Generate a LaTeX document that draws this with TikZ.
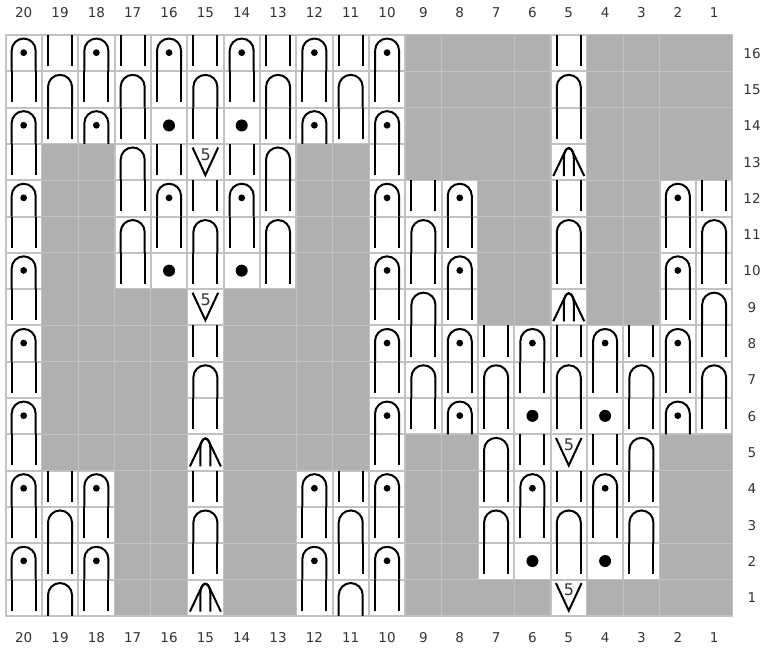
\documentclass[tikz,border=0pt]{standalone}
\usepackage{fontspec}
\setmainfont{DejaVu Sans}
\definecolor{chartgray}{HTML}{B0B0B0}
\definecolor{gridgray}{HTML}{C2C2C2}
\definecolor{labelgray}{HTML}{333333}
\tikzset{
  x=1pt,y=-1pt,
  ink/.style={draw=black,line width=2pt,line cap=butt,line join=miter},
  num/.style={text=labelgray,font=\fontsize{13.5}{15}\selectfont,inner sep=0pt,anchor=base},
  five/.style={text=labelgray,font=\fontsize{16}{17}\selectfont,inner sep=0pt},
  symG/.pic={\path[fill=chartgray] (-17.8,-17.8) rectangle (17.8,17.8);},
  symK/.pic={\draw[ink] (-12,-18.15) -- (-12,13) (12,-18.15) -- (12,13);},
  symP/.pic={\draw[ink] (-12,18.15) -- (-12,-2.6) arc[start angle=180,end angle=360,radius=12] -- (12,18.15);},
  symD/.pic={\draw[ink] (-12,18.15) -- (-12,-2.6) arc[start angle=180,end angle=360,radius=12] -- (12,18.15);
             \fill (0,-0.5) circle[radius=3.4];},
  symO/.pic={\fill (0,-0.3) circle[radius=6];},
  symV/.pic={\draw[ink] (-12.8,-14.5) -- (0,13) -- (12.8,-14.5);
             \node[five] (n) at (0.3,-7.5) {5};},
  symA/.pic={\draw[ink] (-15.5,14) -- (-5,-8) .. controls (-3,-12.5) and (-1.5,-14) .. (0,-14)
             .. controls (1.5,-14) and (3,-12.5) .. (5,-8) -- (15.5,14);
             \draw[ink] (-5,14) -- (-5,-4) .. controls (-5,-10) and (-2.5,-14) .. (0,-14)
             .. controls (2.5,-14) and (5,-10) .. (5,-4) -- (5,14);},
}
\begin{document}
\begin{tikzpicture}
\fill[white] (0,0) rectangle (762,650);
\useasboundingbox (0,0) rectangle (762,650);
\def\colw{36.34}\def\rowh{36.3}\def\gx{5.5}\def\gy{35}
% grid
\draw[gridgray,line width=2pt] (\gx,\gy) rectangle (\gx+20*\colw,\gy+16*\rowh);
\foreach \i in {1,...,19} \draw[gridgray,line width=2pt] (\gx+\i*\colw,\gy) -- (\gx+\i*\colw,\gy+16*\rowh);
\foreach \i in {1,...,15} \draw[gridgray,line width=2pt] (\gx,\gy+\i*\rowh) -- (\gx+20*\colw,\gy+\i*\rowh);
% symbols: one list per row, columns 20 down to 1
\foreach \r/\cells in {
 16/{D,K,D,K,D,K,D,K,D,K,D,G,G,G,G,K,G,G,G,G},
 15/{K,P,K,P,K,P,K,P,K,P,K,G,G,G,G,P,G,G,G,G},
 14/{D,K,D,K,O,K,O,K,D,K,D,G,G,G,G,K,G,G,G,G},
 13/{K,G,G,P,K,V,K,P,G,G,K,G,G,G,G,A,G,G,G,G},
 12/{D,G,G,K,D,K,D,K,G,G,D,K,D,G,G,K,G,G,D,K},
 11/{K,G,G,P,K,P,K,P,G,G,K,P,K,G,G,P,G,G,K,P},
 10/{D,G,G,K,O,K,O,K,G,G,D,K,D,G,G,K,G,G,D,K},
  9/{K,G,G,G,G,V,G,G,G,G,K,P,K,G,G,A,G,G,K,P},
  8/{D,G,G,G,G,K,G,G,G,G,D,K,D,K,D,K,D,K,D,K},
  7/{K,G,G,G,G,P,G,G,G,G,K,P,K,P,K,P,K,P,K,P},
  6/{D,G,G,G,G,K,G,G,G,G,D,K,D,K,O,K,O,K,D,K},
  5/{K,G,G,G,G,A,G,G,G,G,K,G,G,P,K,V,K,P,G,G},
  4/{D,K,D,G,G,K,G,G,D,K,D,G,G,K,D,K,D,K,G,G},
  3/{K,P,K,G,G,P,G,G,K,P,K,G,G,P,K,P,K,P,G,G},
  2/{D,K,D,G,G,K,G,G,D,K,D,G,G,K,O,K,O,K,G,G},
  1/{K,P,K,G,G,A,G,G,K,P,K,G,G,G,G,V,G,G,G,G}}{
  \foreach \t [count=\c from 0] in \cells {
    \pic (c\r-\c) at ({\gx+(\c+0.5)*\colw},{\gy+(16-\r+0.5)*\rowh}) {sym\t};
  }
}
% labels
\foreach \n [evaluate=\n as \xx using {\gx+(20-\n+0.5)*\colw}] in {1,...,20} {
  \node[num] (top\n) at (\xx,17.5) {\n};
  \node[num] (bot\n) at (\xx,642.5) {\n};
}
\foreach \n [evaluate=\n as \yy using {\gy+(16-\n+0.5)*\rowh+5}] in {1,...,16} {
  \node[num] (row\n) at (752,\yy) {\n};
}
\end{tikzpicture}
\end{document}
